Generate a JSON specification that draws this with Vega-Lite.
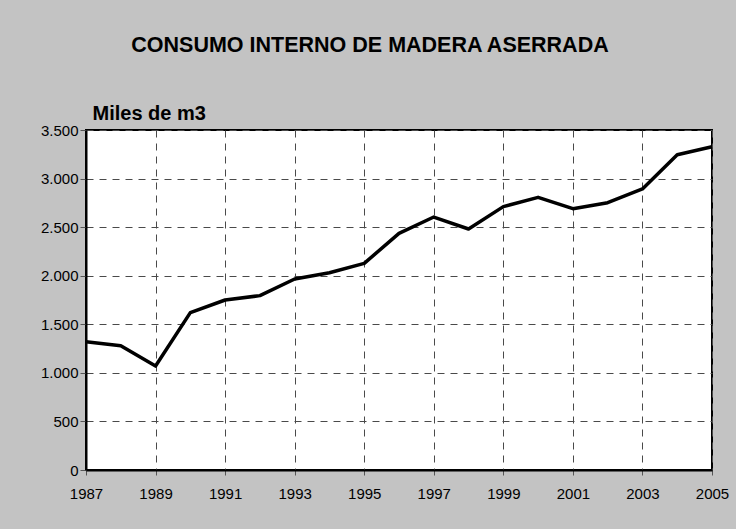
{
  "$schema": "https://vega.github.io/schema/vega-lite/v6.json",
  "width": 626,
  "height": 340,
  "autosize": {"type": "none"},
  "padding": {"left": 86, "top": 130, "right": 24, "bottom": 59},
  "background": "#c3c3c3",
  "config": {
    "locale": {"number": {"decimal": ",", "thousands": ".", "grouping": [3], "currency": ["", ""]}},
    "view": {"fill": "white", "stroke": "black", "strokeWidth": 2},
    "font": "Liberation Sans"
  },
  "title": {
    "text": "CONSUMO INTERNO DE MADERA ASERRADA",
    "font": "Liberation Sans",
    "fontSize": 21.5,
    "fontWeight": "bold",
    "color": "black",
    "anchor": "middle",
    "dx": -29,
    "offset": 74,
    "dy": 27
  },
  "data": {
    "values": [
      {"year": 1987, "value": 1320},
      {"year": 1988, "value": 1280},
      {"year": 1989, "value": 1070},
      {"year": 1990, "value": 1620},
      {"year": 1991, "value": 1750},
      {"year": 1992, "value": 1795},
      {"year": 1993, "value": 1966},
      {"year": 1994, "value": 2031},
      {"year": 1995, "value": 2127},
      {"year": 1996, "value": 2436},
      {"year": 1997, "value": 2604},
      {"year": 1998, "value": 2481},
      {"year": 1999, "value": 2711},
      {"year": 2000, "value": 2807},
      {"year": 2001, "value": 2690},
      {"year": 2002, "value": 2752},
      {"year": 2003, "value": 2893},
      {"year": 2004, "value": 3246},
      {"year": 2005, "value": 3328}
    ]
  },
  "mark": {"type": "line", "color": "black", "strokeWidth": 3.5, "strokeJoin": "round"},
  "encoding": {
    "x": {
      "field": "year",
      "type": "quantitative",
      "scale": {"domain": [1987, 2005], "nice": false, "zero": false},
      "axis": {
        "values": [1987, 1989, 1991, 1993, 1995, 1997, 1999, 2001, 2003, 2005],
        "format": "d",
        "title": null,
        "labelFontSize": 15,
        "labelColor": "black",
        "labelPadding": 11,
        "labelFlush": false,
        "domainColor": "black",
        "domainWidth": 2,
        "tickColor": "#555555",
        "tickSize": 5,
        "grid": true,
        "gridColor": "#4a4a4a",
        "gridDash": [7, 6],
        "gridWidth": 1
      }
    },
    "y": {
      "field": "value",
      "type": "quantitative",
      "scale": {"domain": [0, 3500], "nice": false},
      "axis": {
        "values": [0, 500, 1000, 1500, 2000, 2500, 3000, 3500],
        "format": ",d",
        "labelFontSize": 15,
        "labelColor": "black",
        "labelPadding": 2,
        "domainColor": "black",
        "domainWidth": 2,
        "tickColor": "#555555",
        "tickSize": 6,
        "grid": true,
        "gridColor": "#4a4a4a",
        "gridDash": [7, 6],
        "gridWidth": 1,
        "title": "Miles de m3",
        "titleAngle": 0,
        "titleAlign": "left",
        "titleBaseline": "alphabetic",
        "titleX": 6,
        "titleY": -11,
        "titleFontSize": 20,
        "titleFontWeight": "bold",
        "titleColor": "black"
      }
    }
  }
}
